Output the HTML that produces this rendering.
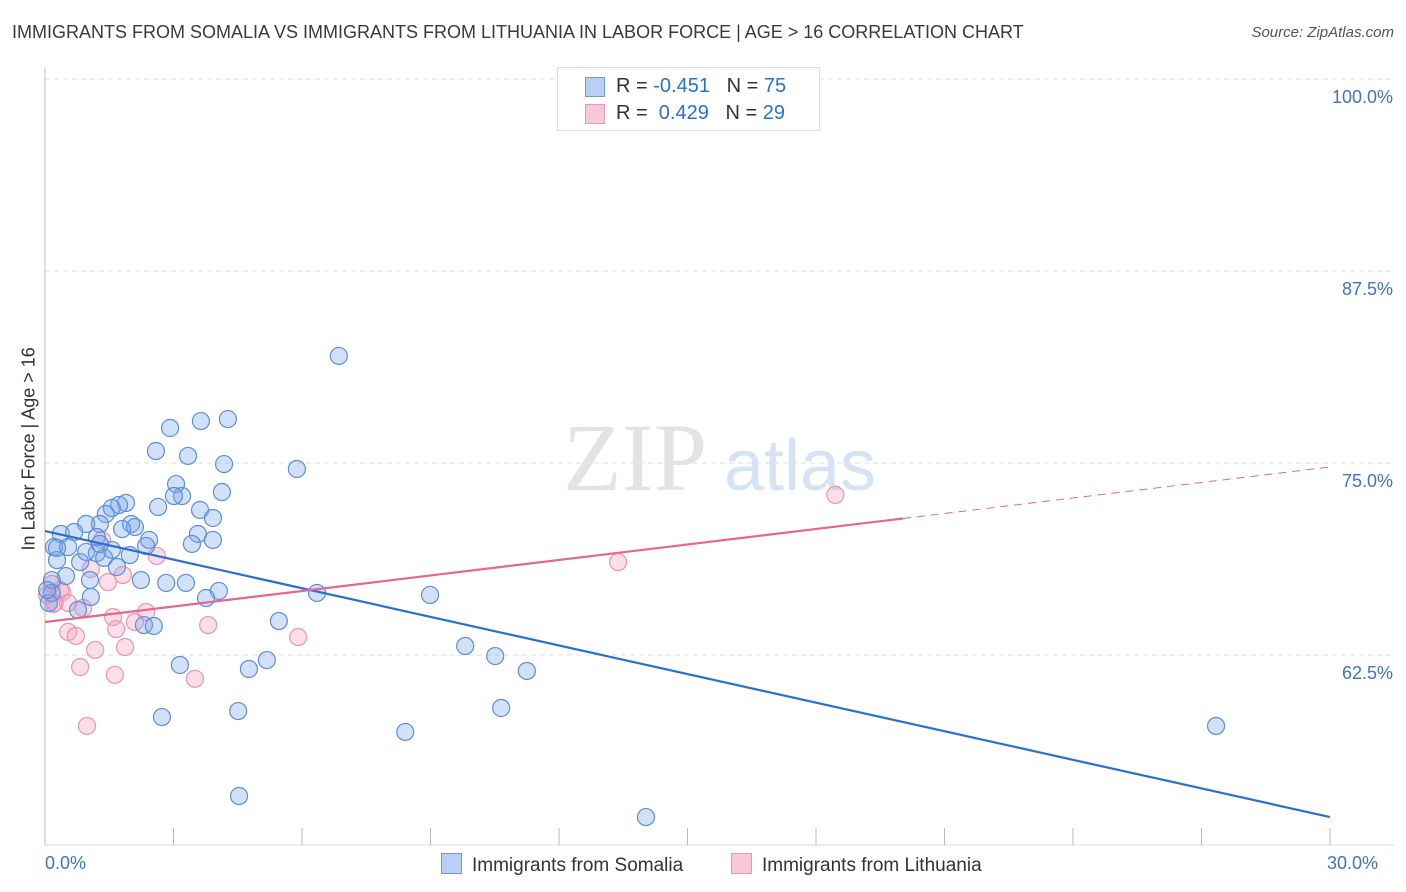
<!DOCTYPE html>
<html><head><meta charset="utf-8">
<style>
body{margin:0;background:#fff;font-family:"Liberation Sans",sans-serif;}
#wrap{position:relative;width:1406px;height:892px;overflow:hidden;}
.t{position:absolute;white-space:nowrap;}
</style></head>
<body>
<div id="wrap">
<div class="t" style="left:12px;top:22px;font-size:18px;color:#3a3a3a;">IMMIGRANTS FROM SOMALIA VS IMMIGRANTS FROM LITHUANIA IN LABOR FORCE | AGE &gt; 16 CORRELATION CHART</div>
<div class="t" style="right:12px;top:24px;font-size:15px;color:#555;font-style:italic;">Source: ZipAtlas.com</div>
<svg id="svg" width="1406" height="892" style="position:absolute;left:0;top:0"></svg>
</div>
<script>
const xTickVals=[0,30];
const yTickVals=[62.5,75,87.5,100];
const somaliaX=[6.86,4.27,3.64,2.92,2.59,3.34,4.18,5.88,3.06,3.20,3.01,4.13,1.89,1.73,1.56,2.64,3.62,1.42,3.92,1.28,0.96,2.01,2.10,0.37,0.68,1.80,3.57,3.92,3.43,2.43,2.36,0.21,0.54,1.21,1.56,1.21,1.98,0.28,0.82,1.38,1.68,0.49,1.05,2.24,2.83,3.29,0.16,0.16,1.07,4.06,3.76,6.35,8.99,0.09,0.77,2.31,2.54,5.46,3.15,4.76,5.18,9.81,10.51,11.25,2.73,4.51,8.41,10.65,27.34,4.53,14.03,0.05,0.28,0.96,1.28];
const somaliaY=[81.97,77.86,77.73,77.28,75.78,75.46,74.93,74.61,73.63,72.85,72.85,73.11,72.40,72.27,72.07,72.14,71.94,71.68,71.42,71.03,71.03,71.03,70.83,70.38,70.51,70.70,70.38,69.99,69.73,69.99,69.60,69.53,69.53,70.18,69.34,69.14,69.01,68.68,68.55,68.82,68.23,67.64,67.38,67.38,67.19,67.19,67.38,66.54,66.28,66.67,66.21,66.54,66.41,65.89,65.43,64.45,64.39,64.71,61.85,61.59,62.17,63.09,62.43,61.46,58.46,58.85,57.49,59.05,57.88,53.32,51.95,66.73,69.47,69.21,69.73];
const lithX=[18.45,13.38,1.33,2.61,1.82,1.07,1.47,0.16,0.05,0.40,0.54,0.19,0.89,1.59,2.36,2.10,1.66,0.54,0.72,3.81,5.91,1.17,1.87,0.82,1.63,3.50,0.98,0.23,0.35];
const lithY=[72.92,68.55,69.99,68.95,67.71,68.10,67.25,67.12,66.41,66.60,65.89,65.82,65.56,64.97,65.30,64.65,64.19,64.00,63.74,64.45,63.67,62.83,63.02,61.72,61.21,60.95,57.88,65.89,66.73];
const somaliaTrend=[70.57,51.95];
const lithTrend=[64.65,74.74];
const lithSolidEnd=20.03;

const X=v=>45+v*42.833, Y=v=>79+(100-v)*15.36;
const svg=document.getElementById('svg');
const NS='http://www.w3.org/2000/svg';
function mk(tag,attrs){const e=document.createElementNS(NS,tag);for(const k in attrs)e.setAttribute(k,attrs[k]);svg.appendChild(e);return e;}

yTickVals.forEach(v=>{
  const g=mk('line',{x1:45,x2:1394,y1:Y(v),y2:Y(v),stroke:'#ddd','stroke-dasharray':'5,4'});
  
  
  const t=mk('text',{x:1393,y:Y(v)+24,'text-anchor':'end','font-size':18,fill:'#3b73d1','font-family':'Liberation Sans'});
  t.textContent=v.toFixed(1)+'%';
  
  
});
const ax=mk('line',{x1:45,x2:45,y1:68,y2:845,stroke:'#bbb'});


const bx=mk('line',{x1:45,x2:1394,y1:845,y2:845,stroke:'#ddd'});


for(let i=0;i<=10;i++){
  const v=i*3;
  const l=mk('line',{x1:X(v),x2:X(v),y1:828,y2:845,stroke:'#bbb'});
  
  
}
xTickVals.forEach((v,i)=>{
  const t=mk('text',{x:X(v)+(i==0?0:48),y:869,'text-anchor':i==0?'start':'end','font-size':18,fill:'#3b73d1','font-family':'Liberation Sans'});
  t.textContent=v.toFixed(1)+'%';
  
  
});
// watermark
const w1=mk('text',{x:635,y:490,'text-anchor':'middle','font-size':96,fill:'#e3e3e3','font-family':'Liberation Serif'});
w1.textContent='ZIP';


const w2=mk('text',{x:800,y:490,'text-anchor':'middle','font-size':72,fill:'#d6e3f5','font-family':'Liberation Sans'});
w2.textContent='atlas';



lithX.forEach((v,i)=>{
  const c=mk('circle',{cx:X(v),cy:Y(lithY[i]),r:8.5,fill:'rgba(244,160,188,0.35)',stroke:'#ec94b2','stroke-width':1.2});
  
  
});
somaliaX.forEach((v,i)=>{
  const c=mk('circle',{cx:X(v),cy:Y(somaliaY[i]),r:8.5,fill:'rgba(120,165,235,0.33)',stroke:'#5a8fdc','stroke-width':1.2});
  
  
});
const sl=mk('line',{x1:X(0),y1:Y(somaliaTrend[0]),x2:X(30),y2:Y(somaliaTrend[1]),stroke:'#2a6fd6','stroke-width':2.2});


const ly=x=>lithTrend[0]+(lithTrend[1]-lithTrend[0])*x/30;
const ll=mk('line',{x1:X(0),y1:Y(lithTrend[0]),x2:X(lithSolidEnd),y2:Y(ly(lithSolidEnd)),stroke:'#e6668f','stroke-width':2.2});


const ld=mk('line',{x1:X(lithSolidEnd),y1:Y(ly(lithSolidEnd)),x2:X(30),y2:Y(lithTrend[1]),stroke:'#e6668f','stroke-width':1,'stroke-dasharray':'8,6'});


</script>
<div class="t" style="left:-66px;top:445px;width:190px;text-align:center;transform:rotate(-90deg);font-size:18px;color:#333;">In Labor Force | Age &gt; 16</div>
<div style="position:absolute;left:557px;top:67px;width:261px;height:62px;border:1px solid #ddd;background:#fff;font-size:20px;color:#333;">
  <div style="position:absolute;left:27px;top:9px;width:18px;height:18px;background:#b8d0f4;border:1px solid #6d9be0;"></div>
  <div class="t" style="left:58px;top:7px;">R = <span style="color:#2a6fd6">-0.451</span>&nbsp;&nbsp;&nbsp;N = <span style="color:#2a6fd6">75</span></div>
  <div style="position:absolute;left:27px;top:36px;width:18px;height:18px;background:#f8c8d8;border:1px solid #eb96b3;"></div>
  <div class="t" style="left:58px;top:34px;">R = &nbsp;<span style="color:#2a6fd6">0.429</span>&nbsp;&nbsp;&nbsp;N = <span style="color:#2a6fd6">29</span></div>
</div>
<div style="position:absolute;left:441px;top:853px;font-size:19px;color:#333;">
  <span style="display:inline-block;width:19px;height:19px;background:#b8d0f4;border:1px solid #6d9be0;vertical-align:-3px;margin-right:10px;"></span>Immigrants from Somalia</div>
<div style="position:absolute;left:731px;top:853px;font-size:19px;color:#333;">
  <span style="display:inline-block;width:19px;height:19px;background:#f8c8d8;border:1px solid #eb96b3;vertical-align:-3px;margin-right:10px;"></span>Immigrants from Lithuania</div>
</body></html>
